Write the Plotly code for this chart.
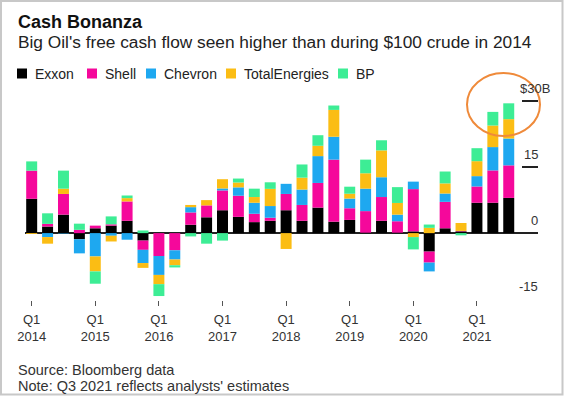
import plotly.graph_objects as go

# ---------------- data ----------------
quarters = [f"Q{q} {y}" for y in range(2014, 2022) for q in range(1, 5)][:31]

series_names = ["Exxon", "Shell", "Chevron", "TotalEnergies", "BP"]

exxon = [7.8, 1.5, 4.2, -1.4, 1.1, 1.7, 2.8, -1.7, 0.0, 0.0,
         1.9, 3.6, 5.2, 3.7, 2.5, 2.8, 5.2, 2.8, 5.8, 2.6,
         3.0, 0.1, 2.8, 0.1, 0.4, -4.2, 1.1, 0.4, 6.9, 6.9, 8.0]
shell = [6.4, 0.6, 4.7, 0.75, 0.6, 0.3, 4.4, -2.1, -5.2, -3.9,
         2.8, 2.7, 4.5, 4.8, 1.9, 0.7, 3.7, 3.6, 5.6, 14.1,
         2.65, 4.9, 5.4, 2.6, 9.6, -2.5, 6.0, 0.1, 3.7, 7.35, 7.4]
chevron = [0.0, -0.9, -0.1, -3.2, -5.3, -0.6, -1.5, -3.0, -4.3, -2.1,
           1.2, 0.0, 0.45, 1.9, 2.5, 2.65, 2.3, 3.5, 6.1, 5.2,
           2.2, 5.1, 4.5, 1.5, 1.7, -2.0, 1.9, 0.0, 2.35, 5.3, 6.1]
total = [-0.2, -1.5, 1.2, 0.0, -3.4, -1.3, 0.75, -1.1, -2.1, -1.3,
         0.5, 1.2, 2.1, 1.1, 1.3, 3.9, -3.6, 2.7, 2.35, 6.1,
         1.1, 3.5, 6.1, 2.65, -0.9, 1.2, 2.3, 1.8, 3.4, 4.9, 4.4]
bp = [2.1, 2.4, 4.1, 1.4, -2.8, 1.8, 0.6, 0.6, -2.7, -0.5,
      -0.75, -2.4, -1.7, 0.9, 1.9, 1.5, 0.0, 3.0, 2.4, 1.0,
      1.6, 3.1, 2.3, 3.6, -2.8, 0.75, 2.7, -0.5, 2.95, 3.1, 3.6]

x_tick_vals = ["Q1 2014", "Q1 2015", "Q1 2016", "Q1 2017",
               "Q1 2018", "Q1 2019", "Q1 2020", "Q1 2021"]
x_tick_text = ["Q1<br>2014", "Q1<br>2015", "Q1<br>2016", "Q1<br>2017",
               "Q1<br>2018", "Q1<br>2019", "Q1<br>2020", "Q1<br>2021"]
y_tick_vals = [-15, 0, 15, 30]
y_tick_text = ["-15", "0", "15", "$30B"]

title = "Cash Bonanza"
subtitle = "Big Oil's free cash flow seen higher than during $100 crude in 2014"
source = "Source: Bloomberg data"
note = "Note: Q3 2021 reflects analysts' estimates"

# ---------------- style ----------------
colors = ["#000000", "#f5089b", "#1ea8f0", "#fbbd14", "#3ded95"]
FONT = "Liberation Sans, Arial, sans-serif"
W, H = 564, 396
L, R, T, B = 25, 26, 92, 96
PW, PH = W - L - R, H - T - B


def px(x):
    return (x - L) / PW


def py(y):
    return (H - B - y) / PH


fig = go.Figure()
for name, vals, col in zip(series_names, [exxon, shell, chevron, total, bp], colors):
    fig.add_trace(go.Bar(x=quarters, y=vals, name=name, marker_color=col,
                         marker_line_width=0, showlegend=False))

fig.update_layout(
    width=W, height=H,
    margin=dict(l=L, r=R, t=T, b=B),
    barmode="relative",
    bargap=0.31,
    paper_bgcolor="white", plot_bgcolor="white",
    font=dict(family=FONT, size=13, color="#333"),
)
fig.update_xaxes(
    type="category", categoryorder="array", categoryarray=quarters,
    range=[-0.42, 31.84],
    tickmode="array", tickvals=x_tick_vals, ticktext=x_tick_text,
    ticks="outside", ticklen=5, tickwidth=1, tickcolor="#555",
    ticklabelstandoff=2,
    showgrid=False, showline=False, zeroline=False,
    tickfont=dict(size=13, color="#333"),
)
fig.update_yaxes(
    side="right", range=[-15.2, 32.07],
    tickmode="array", tickvals=y_tick_vals,
    ticks="inside", ticklen=16, tickwidth=1.5, tickcolor="#222",
    showticklabels=False, showgrid=False, showline=False,
    zeroline=True, zerolinecolor="#222", zerolinewidth=1.5,
)

ann = []
# y tick labels above the tick marks
for v, t in zip(y_tick_vals, y_tick_text):
    right = 552 if t.endswith("B") else 540
    ann.append(dict(xref="paper", yref="y", x=px(right), y=v, yshift=13,
                    text=t, showarrow=False, xanchor="right", yanchor="middle",
                    font=dict(size=13, color="#333")))

# title, subtitle
ann.append(dict(xref="paper", yref="paper", x=px(16), y=py(21.5), text=f"<b>{title}</b>",
                showarrow=False, xanchor="left", yanchor="middle",
                font=dict(size=18, color="#111")))
ann.append(dict(xref="paper", yref="paper", x=px(16), y=py(42), text=subtitle,
                showarrow=False, xanchor="left", yanchor="middle",
                font=dict(size=17.3, color="#222")))
# footer
ann.append(dict(xref="paper", yref="paper", x=px(16), y=py(369.5), text=source,
                showarrow=False, xanchor="left", yanchor="middle",
                font=dict(size=14.5, color="#333")))
ann.append(dict(xref="paper", yref="paper", x=px(16), y=py(386), text=note,
                showarrow=False, xanchor="left", yanchor="middle",
                font=dict(size=14.5, color="#333")))

shapes = []
# custom legend
leg_x = [17, 87, 146, 226, 338]
for name, col, lx in zip(series_names, colors, leg_x):
    shapes.append(dict(type="rect", xref="paper", yref="paper",
                       x0=px(lx), x1=px(lx + 10), y0=py(78.5), y1=py(68.5),
                       fillcolor=col, line=dict(width=0)))
    ann.append(dict(xref="paper", yref="paper", x=px(lx + 16), y=py(73.5), text=name,
                    showarrow=False, xanchor="left", yanchor="middle",
                    font=dict(size=14, color="#222")))

# orange highlight circle
shapes.append(dict(type="circle", xref="paper", yref="paper",
                   x0=px(467), x1=px(540), y0=py(136), y1=py(73),
                   line=dict(color="#ef8a3a", width=2)))
# frame
shapes.append(dict(type="rect", xref="paper", yref="paper",
                   x0=px(1), x1=px(562.5), y0=py(394.5), y1=py(1),
                   line=dict(color="#c8c8c8", width=2)))

fig.update_layout(annotations=ann, shapes=shapes)
fig.write_html("out.html",
               config={"displayModeBar": False, "staticPlot": True},
               post_script="document.body.style.margin='0';document.body.style.overflow='hidden';")
